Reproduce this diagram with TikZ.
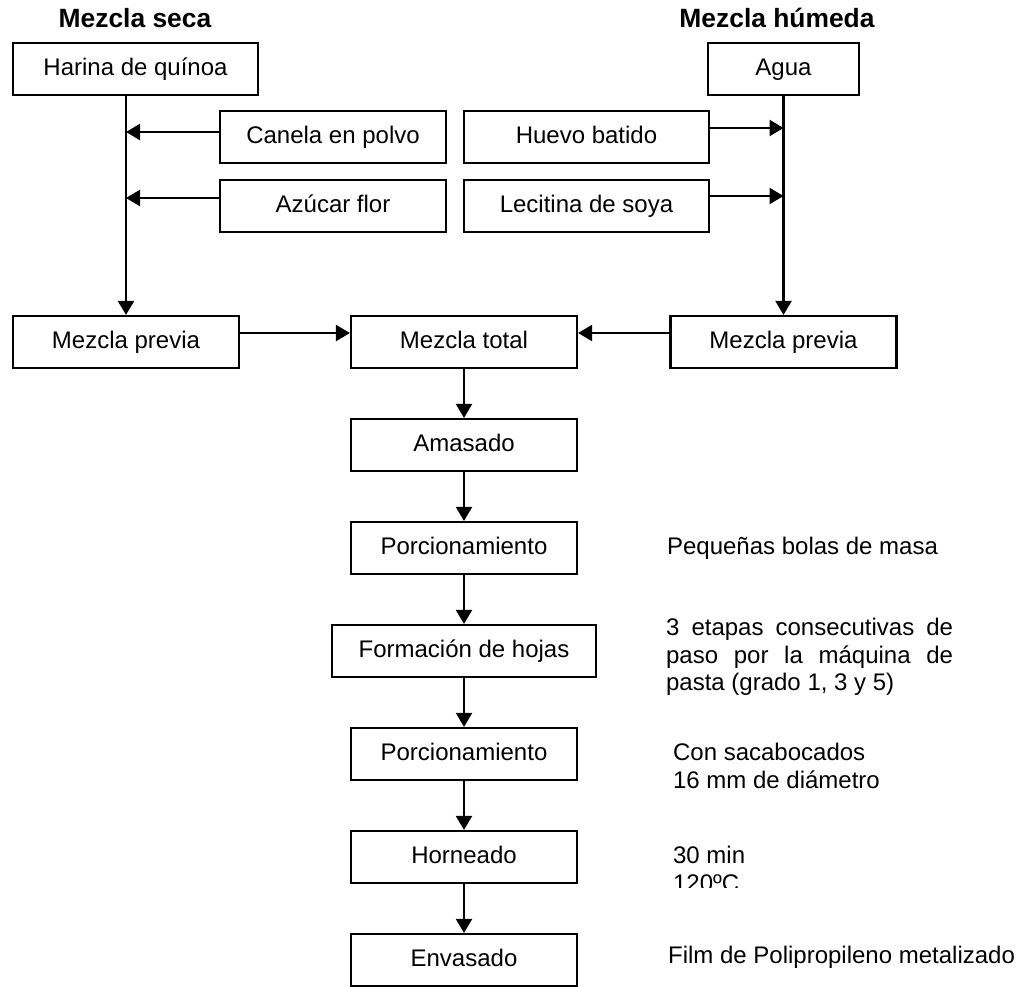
\documentclass[tikz,border=0pt]{standalone}
\usepackage{fontspec}
\setmainfont{Liberation Sans}
\usetikzlibrary{positioning, arrows.meta, calc}

\begin{document}
\begin{tikzpicture}[x=0.5pt, y=-0.5pt, line width=1.1pt, every node/.style={font=\fontsize{12}{13.8}\selectfont}]

        % Block definitions
        \tikzstyle{block} = [draw, rectangle, line width=1.1pt, minimum height=26pt, minimum width=113pt, inner sep=0pt, text height=8.6pt, text depth=2.6pt, align=center, fill=white]
        \tikzstyle{title} = [font=\fontsize{13.2}{15}\selectfont\bfseries]
        \tikzstyle{note} = [anchor=west, inner sep=0pt, align=left]
        \tikzstyle{flow} = [-{Triangle[length=7pt, width=8pt]}, line width=1.1pt]

        \useasboundingbox (0,0) rectangle (1020,986);

        % Titles
        \node[title] (seca) at (135,18) {Mezcla seca};
        \node[title] (humeda) at (777,18) {Mezcla húmeda};

        % Dry mix
        \node[block, minimum width=122.5pt] (harina) at (135.5,69) {Harina de quínoa};
        \node[block] (canela) at (333,137) {Canela en polvo};
        \node[block] (azucar) at (333,206) {Azúcar flor};

        % Wet mix
        \node[block, minimum width=75.5pt] (agua) at (783.5,69) {Agua};
        \node[block, minimum width=122.5pt] (huevo) at (586.5,137) {Huevo batido};
        \node[block, minimum width=122.5pt] (lecitina) at (586.5,206) {Lecitina de soya};

        % Main line
        \node[block] (previaL) at (126,342) {Mezcla previa};
        \node[block] (total) at (464,342) {Mezcla total};
        \node[block] (previaR) at (783.5,342) {Mezcla previa};
        \node[block] (amasado) at (464,445) {Amasado};
        \node[block] (porcion) at (464,548) {Porcionamiento};
        \node[block, minimum width=132pt] (hojas) at (464,651) {Formación de hojas};
        \node[block] (corte) at (464,754) {Porcionamiento};
        \node[block] (horneado) at (464,857) {Horneado};
        \node[block] (envasado) at (464,960) {Envasado};

        % Notes
        \node[note] (bolas) at (666,548) {Pequeñas bolas de masa};
        \node[note, text width=143.5pt, align=justify] (etapas) at (665,657)
            {3 etapas consecutivas de\linebreak paso por la máquina de\linebreak pasta (grado 1, 3 y 5)};
        \node[note] (sacabocados) at (672,766) {Con sacabocados\\16 mm de diámetro};
        \begin{scope}
            \clip (600,830) rectangle (1020,887);
            \node[note] (horno) at (672,869) {30 min\\120ºC};
        \end{scope}
        \node[note] (film) at (667,957) {Film de Polipropileno metalizado};

        % Arrows
        \draw[flow] (previaL.north |- harina.south) -- (previaL);
        \draw[flow] ([yshift=2.5pt]canela.west) -- ([yshift=2.5pt]canela.west -| previaL.north);
        \draw[flow] ([yshift=4pt]azucar.west) -- ([yshift=4pt]azucar.west -| previaL.north);
        \draw[flow] (agua) -- (previaR);
        \draw[flow] ([yshift=4.5pt]huevo.east) -- ([yshift=4.5pt]huevo.east -| previaR.north);
        \draw[flow] ([yshift=5pt]lecitina.east) -- ([yshift=5pt]lecitina.east -| previaR.north);
        \draw[flow] ([yshift=4.5pt]previaL.east) -- ([yshift=4.5pt]total.west);
        \draw[flow] ([yshift=4.5pt]previaR.west) -- ([yshift=4.5pt]total.east);
        \draw[flow] (total) -- (amasado);
        \draw[flow] (amasado) -- (porcion);
        \draw[flow] (porcion) -- (hojas);
        \draw[flow] (hojas) -- (corte);
        \draw[flow] (corte) -- (horneado);
        \draw[flow] (horneado) -- (envasado);

    \end{tikzpicture}
\end{document}
